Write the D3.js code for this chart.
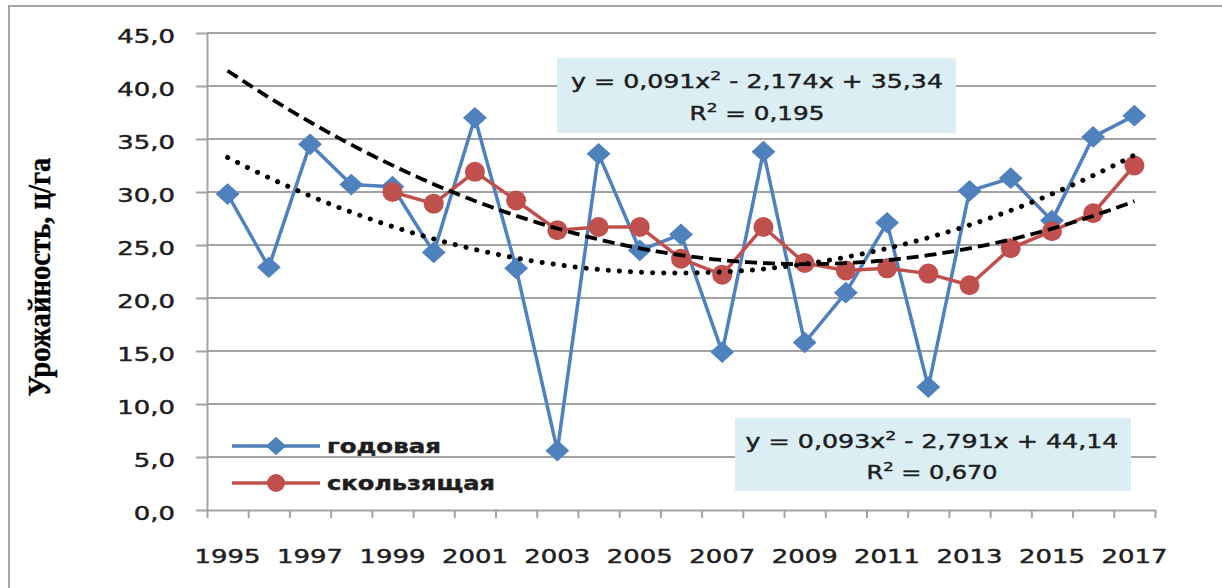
<!DOCTYPE html>
<html>
<head>
<meta charset="utf-8">
<script src="https://cdn.jsdelivr.net/npm/d3@7"></script>
<style>
  body { margin: 0; background: #fff; }
  text { font-family: "DejaVu Sans", Verdana, sans-serif; fill: #1e1e1e;
         stroke: #1e1e1e; stroke-width: 0.45px; }
</style>
</head>
<body>
<script>
// categories
var years = ["1995","1996","1997","1998","1999","2000","2001","2002","2003","2004","2005",
             "2006","2007","2008","2009","2010","2011","2012","2013","2014","2015","2016","2017"];
// yearly yield, c/ha
var annual = [29.8, 22.9, 34.5, 30.7, 30.5, 24.3, 37.0, 22.8, 5.6, 33.6, 24.5,
              26.0, 14.9, 33.8, 15.8, 20.5, 27.1, 11.6, 30.1, 31.3, 27.3, 35.2, 37.2];
// moving average (starts in 1999)
var moving = [null, null, null, null, 30.0, 28.9, 31.9, 29.2, 26.4, 26.7, 26.7,
              23.7, 22.2, 26.7, 23.3, 22.6, 22.8, 22.3, 21.2, 24.7, 26.3, 28.0, 32.5];
// polynomial trend coefficients [a, b, c] for y = a*x^2 + b*x + c, x = 1..23
var trendAnnual = [0.091, -2.174, 35.34];
var trendMoving = [0.093, -2.791, 44.14];
var yTicks = [0, 5, 10, 15, 20, 25, 30, 35, 40, 45];
var seriesNames = ["годовая", "скользящая"];
// equation text split around the superscripts
var eqAnnual = [["y = 0,091x", "2", " - 2,174x + 35,34"], ["R", "2", " = 0,195"]];
var eqMoving = [["y = 0,093x", "2", " - 2,791x + 44,14"], ["R", "2", " = 0,670"]];

var W = 1222, H = 588;
var pLeft = 207, pRight = 1155, pTop = 33, pBottom = 510;
var blue = "#4f81bd", red = "#c0504d", grid = "#a3a3a3";
var sx = 1.33; // the picture is stretched sideways

var svg = d3.select("body").append("svg")
    .attr("width", W).attr("height", H);

// outer chart frame
svg.append("rect")
    .attr("x", 9).attr("y", 6).attr("width", 1300).attr("height", 700)
    .attr("fill", "#fff").attr("stroke", "#a6a6a6").attr("stroke-width", 2);

var x = d3.scaleBand().domain(years).range([pLeft, pRight]).padding(0);
var xi = d3.scaleLinear().domain([0, years.length]).range([pLeft, pRight]);
var y = d3.scaleLinear().domain([0, 45]).range([pBottom, pTop]);
var cx = function(i) { return x(years[i]) + x.bandwidth() / 2; };

function stretch(sel, k) {
  sel.each(function() {
    var t = d3.select(this);
    var x0 = +t.attr("x") || 0;
    t.attr("x", x0 / k).attr("transform", "scale(" + k + ",1)");
  });
}

// text of a given width, centred (or started) at px; parts = [text, sup, text]
function fitText(parent, parts, px, py, w, anchor, size, weight) {
  if (typeof parts === "string") parts = [parts];
  var t = parent.append("text")
      .attr("text-anchor", anchor || "middle")
      .style("font-size", size || "19px")
      .style("font-weight", weight || "normal");
  parts.forEach(function(p, i) {
    var s = t.append("tspan").text(p);
    if (i === 1) s.style("font-size", "13px").attr("dy", -8);
    if (i === 2) s.attr("dy", 8);
  });
  var len = t.node().getComputedTextLength();
  t.attr("transform", "translate(" + px + "," + py + ") scale(" + (w / len) + ",1)");
  return t;
}

// gridlines
svg.append("g")
  .selectAll("line")
  .data(yTicks.slice(1))
  .join("line")
    .attr("x1", pLeft).attr("x2", pRight + 1)
    .attr("y1", function(d) { return y(d); })
    .attr("y2", function(d) { return y(d); })
    .attr("stroke", grid).attr("stroke-width", 2);

// y axis
var yAxis = svg.append("g")
    .attr("transform", "translate(" + pLeft + ",0)")
    .call(d3.axisLeft(y).tickValues(yTicks)
      .tickFormat(function(d) { return d3.format(".1f")(d).replace(".", ","); })
      .tickSizeInner(11).tickSizeOuter(0).tickPadding(21));
yAxis.selectAll("path, line").attr("stroke", grid).attr("stroke-width", 2);
yAxis.selectAll("text").style("font-size", "19.5px").attr("dy", "0.5em");
stretch(yAxis.selectAll("text"), sx);

// x axis, ticks between categories
var xAxis = svg.append("g")
    .attr("transform", "translate(0," + pBottom + ")")
    .call(d3.axisBottom(xi).tickValues(d3.range(years.length + 1))
      .tickFormat("").tickSizeInner(8).tickSizeOuter(0));
xAxis.selectAll("path, line").attr("stroke", grid).attr("stroke-width", 2);

var xLab = svg.append("g")
    .attr("transform", "translate(0," + pBottom + ")")
    .call(d3.axisBottom(x).tickSize(0)
      .tickFormat(function(d, i) { return i % 2 === 0 ? d : ""; }));
xLab.select(".domain").remove();
xLab.selectAll("text").style("font-size", "19.5px").attr("y", 53).attr("dy", 0);
stretch(xLab.selectAll("text"), sx);

// y axis title
var title = svg.append("text")
    .attr("text-anchor", "middle")
    .style("font-family", "'Liberation Serif', 'Times New Roman', serif")
    .style("font-weight", "bold").style("font-size", "24px")
    .style("fill", "#000").style("stroke", "#000").style("stroke-width", "0.3px")
    .text("Урожайность, ц/га");
var tl = title.node().getComputedTextLength();
title.attr("transform", "translate(50,277) rotate(-90) scale(" + (239 / tl) + ",1.3)");

// series
var line = d3.line()
    .defined(function(d) { return d != null; })
    .x(function(d, i) { return cx(i); })
    .y(function(d) { return y(d); });

var diamond = d3.symbol().type(d3.symbolDiamond2).size(300);

svg.append("path").datum(annual)
    .attr("d", line).attr("fill", "none")
    .attr("stroke", blue).attr("stroke-width", 3.5).attr("stroke-linejoin", "round");
svg.append("g").selectAll("path")
  .data(annual)
  .join("path")
    .attr("d", diamond)
    .attr("transform", function(d, i) { return "translate(" + cx(i) + "," + y(d) + ") scale(1.1,1)"; })
    .attr("fill", blue);

svg.append("path").datum(moving)
    .attr("d", line).attr("fill", "none")
    .attr("stroke", red).attr("stroke-width", 3.5).attr("stroke-linejoin", "round");
svg.append("g").selectAll("circle")
  .data(moving.map(function(v, i) { return {v: v, i: i}; }).filter(function(d) { return d.v != null; }))
  .join("circle")
    .attr("cx", function(d) { return cx(d.i); })
    .attr("cy", function(d) { return y(d.v); })
    .attr("r", 10)
    .attr("fill", red);

// trend lines, drawn from the shown equations
function trendPath(c) {
  var pts = d3.range(1, years.length + 0.001, 0.1).map(function(t) {
    return [xi(t - 0.5), y(c[0] * t * t + c[1] * t + c[2])];
  });
  return d3.line()(pts);
}
svg.append("path")
    .attr("d", trendPath(trendAnnual))
    .attr("fill", "none").attr("stroke", "#000")
    .attr("stroke-width", 5).attr("stroke-linecap", "round")
    .attr("stroke-dasharray", "0.1 11");
svg.append("path")
    .attr("d", trendPath(trendMoving))
    .attr("fill", "none").attr("stroke", "#000")
    .attr("stroke-width", 3.8)
    .attr("stroke-dasharray", "12 6");

// equation labels
function eqBox(lines, bx, by, bw, bh, cxm, base1, w1, base2, w2) {
  var g = svg.append("g");
  g.append("rect").attr("x", bx).attr("y", by).attr("width", bw).attr("height", bh)
      .attr("fill", "#dbeef4");
  fitText(g, lines[0], cxm, base1, w1);
  fitText(g, lines[1], cxm, base2, w2);
}
eqBox(eqAnnual, 557, 58, 399, 75, 757, 88, 372, 120, 135);
eqBox(eqMoving, 735, 418, 396, 73, 932, 448, 373, 479, 131);

// legend
var lg = svg.append("g");
var legendY = [446, 483];
var legendW = [114, 168];
lg.selectAll("line")
  .data(seriesNames)
  .join("line")
    .attr("x1", 232).attr("x2", 320)
    .attr("y1", function(d, i) { return legendY[i]; })
    .attr("y2", function(d, i) { return legendY[i]; })
    .attr("stroke", function(d, i) { return i === 0 ? blue : red; })
    .attr("stroke-width", 3.5);
lg.append("path")
    .attr("d", d3.symbol().type(d3.symbolDiamond2).size(220))
    .attr("transform", "translate(276," + legendY[0] + ") scale(1.1,1)")
    .attr("fill", blue);
lg.append("circle").attr("cx", 276).attr("cy", legendY[1]).attr("r", 9).attr("fill", red);
seriesNames.forEach(function(n, i) {
  fitText(lg, n, 327, legendY[i] + 7, legendW[i], "start", "19px", "bold");
});
</script>
</body>
</html>
